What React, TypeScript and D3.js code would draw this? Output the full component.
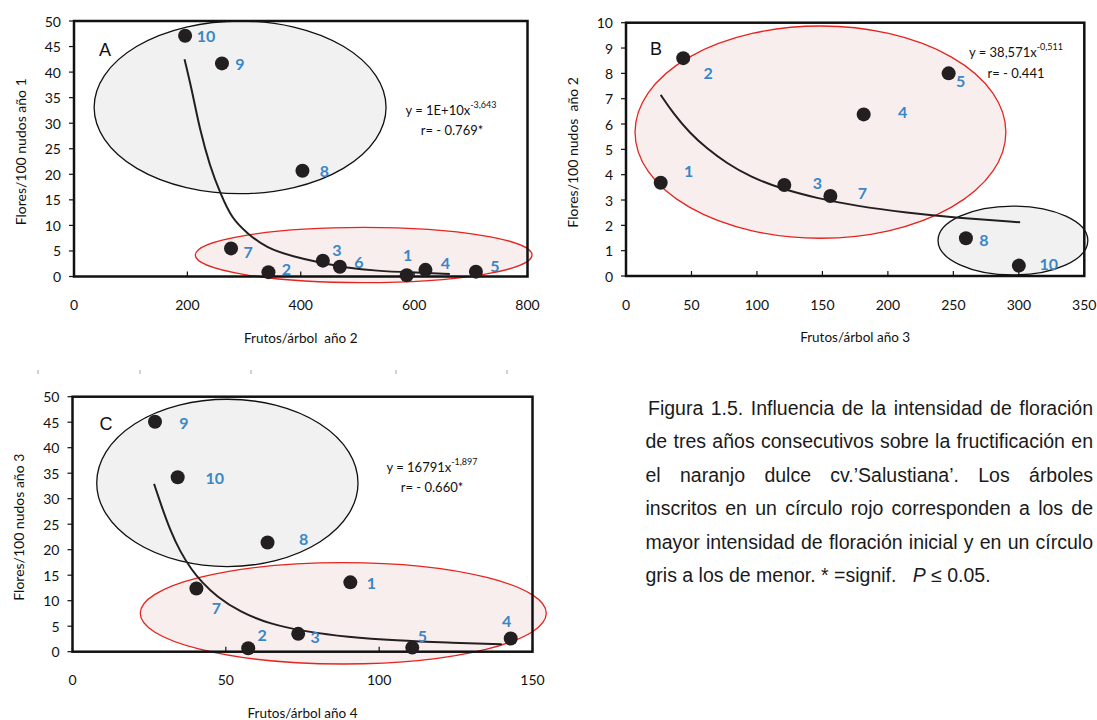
import React from "react";
import * as d3 from "d3";

// --- panel A: flores año 1 vs frutos año 2
const idsA = ["1", "2", "3", "4", "5", "6", "7", "8", "9", "10"];
const frutosA = [587, 343, 439, 620, 709, 469, 277, 403, 261, 196];
const floresA = [0.25, 0.85, 3.1, 1.3, 0.95, 1.9, 5.5, 20.7, 41.7, 47.1];
const trendAx = [195, 208, 222, 240, 258, 278, 305, 340, 387, 434, 481, 534, 593, 663];
const trendAy = [42.5, 36.5, 28.7, 21.5, 16.3, 11.4, 8.5, 5.5, 3.9, 2.7, 1.7, 1.1, 0.8, 0.5];
const xTicksA = [0, 200, 400, 600, 800];
const yTicksA = [0, 5, 10, 15, 20, 25, 30, 35, 40, 45, 50];

// --- panel B: flores año 2 vs frutos año 3
const idsB = ["1", "2", "3", "4", "5", "7", "8", "10"];
const frutosB = [26.5, 43.7, 120.9, 181.5, 246.4, 156.1, 259.6, 300];
const floresB = [3.68, 8.6, 3.59, 6.38, 8.0, 3.16, 1.49, 0.41];
const trendBx = [26.5, 36.1, 48.9, 61.6, 76.9, 94.7, 117.6, 145.6, 176.2, 214.4, 252.6, 301];
const trendBy = [7.15, 6.42, 5.63, 5.04, 4.45, 3.92, 3.46, 3.07, 2.76, 2.5, 2.3, 2.12];
const xTicksB = [0, 50, 100, 150, 200, 250, 300, 350];
const yTicksB = [0, 1, 2, 3, 4, 5, 6, 7, 8, 9, 10];

// --- panel C: flores año 3 vs frutos año 4
const idsC = ["1", "2", "3", "4", "5", "7", "8", "9", "10"];
const frutosC = [90.6, 57.3, 73.6, 142.9, 110.8, 40.4, 63.6, 26.9, 34.3];
const floresC = [13.6, 0.67, 3.5, 2.6, 0.8, 12.4, 21.4, 45.1, 34.2];
const trendCx = [26.6, 29.1, 31.8, 35.1, 38.9, 42.1, 47.0, 54.6, 64.4, 76.4, 89.4, 105.7, 122, 140];
const trendCy = [32.9, 28.4, 23.9, 19.6, 16.0, 13.7, 10.8, 7.8, 5.4, 3.9, 2.9, 2.2, 1.8, 1.45];
const xTicksC = [0, 50, 100, 150];
const yTicksC = [0, 5, 10, 15, 20, 25, 30, 35, 40, 45, 50];

const captionLines = [
  "Figura 1.5. Influencia  de la intensidad de floración",
  "de tres años consecutivos sobre la fructificación en",
  "el naranjo dulce cv.’Salustiana’. Los árboles",
  "inscritos en un círculo rojo corresponden a los de",
  "mayor intensidad de floración inicial y en un círculo",
];

const FONT = "Lato, 'Open Sans', sans-serif";
const SANS = "'Liberation Sans', Arial, sans-serif";
const BLUE = "#3a86c7";
const DOT = "#231f20";

type Ell = { cx: number; cy: number; rx: number; ry: number; red: boolean };

const panels = [
  {
    letter: "A", letterPos: [105, 50],
    ids: idsA, xs: frutosA, ys: floresA, tx: trendAx, ty: trendAy,
    xDomain: [0, 800], yDomain: [0, 50], xRange: [74, 527.5], yRange: [276.5, 21],
    xTicks: xTicksA, yTicks: yTicksA,
    xTitle: "Frutos/árbol  año 2", yTitle: "Flores/100 nudos año 1",
    eq: ["y = 1E+10x", "-3,643"], r: "r= - 0.769*", eqPos: [451, 110], rPos: [452, 130],
    ellipses: [
      { cx: 293, cy: 33.1, rx: 257.5, ry: 16.9, red: false },
      { cx: 511, cy: 4.2, rx: 297, ry: 5.4, red: true },
    ] as Ell[],
    offsets: { "1": [1, -21], "2": [18, -4], "3": [14, -11], "4": [20, -7], "5": [19, -6], "6": [19, -5], "7": [17, 3], "8": [22, 0], "9": [18, 0], "10": [21, 0] } as Record<string, number[]>,
  },
  {
    letter: "B", letterPos: [656, 49],
    ids: idsB, xs: frutosB, ys: floresB, tx: trendBx, ty: trendBy,
    xDomain: [0, 350], yDomain: [0, 10], xRange: [626, 1084.3], yRange: [276, 22.7],
    xTicks: xTicksB, yTicks: yTicksB,
    xTitle: "Frutos/árbol año 3", yTitle: "Flores/100 nudos  año 2",
    eq: ["y = 38,571x", "-0,511"], r: "r= - 0.441", eqPos: [1016, 52], rPos: [1016, 73],
    ellipses: [
      { cx: 295.5, cy: 1.4, rx: 57.2, ry: 1.36, red: false },
      { cx: 148.5, cy: 5.68, rx: 141.6, ry: 4.19, red: true },
    ] as Ell[],
    offsets: { "1": [28, -12], "2": [25, 14], "3": [33, -3], "4": [39, -3], "5": [12, 7], "7": [32, -3], "8": [18, 1], "10": [30, -2] } as Record<string, number[]>,
  },
  {
    letter: "C", letterPos: [106, 424],
    ids: idsC, xs: frutosC, ys: floresC, tx: trendCx, ty: trendCy,
    xDomain: [0, 150], yDomain: [0, 50], xRange: [72.5, 532.5], yRange: [651.7, 396.7],
    xTicks: xTicksC, yTicks: yTicksC,
    xTitle: "Frutos/árbol año 4", yTitle: "Flores/100 nudos año 3",
    eq: ["y = 16791x", "-1,897"], r: "r= - 0.660*", eqPos: [432, 467], rPos: [432, 487],
    ellipses: [
      { cx: 50.5, cy: 33.1, rx: 42.6, ry: 16.4, red: false },
      { cx: 88.3, cy: 7.53, rx: 66.2, ry: 9.94, red: true },
    ] as Ell[],
    offsets: { "1": [21, 0], "2": [14, -14], "3": [17, 3], "4": [-4, -18], "5": [10, -12], "7": [20, 19], "8": [36, -4], "9": [29, 1], "10": [37, 0] } as Record<string, number[]>,
  },
];

function Panel({ p }: { p: (typeof panels)[number] }) {
  const x = d3.scaleLinear().domain(p.xDomain).range(p.xRange);
  const y = d3.scaleLinear().domain(p.yDomain).range(p.yRange);
  const [left, right] = p.xRange;
  const [bottom, top] = p.yRange;
  const line = d3
    .line<number>()
    .x((d) => x(d))
    .y((_, i) => y(p.ty[i]))
    .curve(d3.curveBasis);

  return (
    <g>
      {p.ellipses.map((e, i) => (
        <ellipse
          key={i}
          cx={x(e.cx)}
          cy={y(e.cy)}
          rx={x(e.cx + e.rx) - x(e.cx)}
          ry={y(e.cy - e.ry) - y(e.cy)}
          fill={e.red ? "#f8eeed" : "#f1f1f1"}
          stroke={e.red ? "#e5231f" : "#111"}
          strokeWidth={1.3}
        />
      ))}
      <rect x={left} y={top} width={right - left} height={bottom - top} fill="none" stroke="#111" strokeWidth={2.5} />
      {p.yTicks.map((t) => (
        <g key={"y" + t}>
          <line x1={left - 5} x2={left} y1={y(t)} y2={y(t)} stroke="#111" strokeWidth={1.2} />
          <text x={left - 13} y={y(t)} textAnchor="end" dominantBaseline="central" fontSize={14} fontFamily={FONT} fill="#111">
            {t}
          </text>
        </g>
      ))}
      {p.xTicks.map((t) => (
        <g key={"x" + t}>
          <line x1={x(t)} x2={x(t)} y1={bottom} y2={bottom - 5} stroke="#111" strokeWidth={1.2} />
          <text x={x(t)} y={bottom + 28} textAnchor="middle" dominantBaseline="central" fontSize={14} fontFamily={FONT} fill="#111">
            {t}
          </text>
        </g>
      ))}
      <text
        transform={`translate(${left - 54},${(top + bottom) / 2 + 3}) rotate(-90)`}
        textAnchor="middle"
        dominantBaseline="central"
        fontSize={14}
        fontFamily={FONT}
        fill="#111"
        style={{ whiteSpace: "pre" }}
      >
        {p.yTitle}
      </text>
      <text x={(left + right) / 2} y={bottom + 61} textAnchor="middle" dominantBaseline="central" fontSize={13.5} fontFamily={FONT} fill="#111" style={{ whiteSpace: "pre" }}>
        {p.xTitle}
      </text>
      <path d={line(p.tx) || ""} fill="none" stroke={DOT} strokeWidth={2} />
      {p.ids.map((id, i) => (
        <circle key={id} cx={x(p.xs[i])} cy={y(p.ys[i])} r={7} fill={DOT} />
      ))}
      {p.ids.map((id, i) => (
        <text
          key={"l" + id}
          x={x(p.xs[i]) + p.offsets[id][0]}
          y={y(p.ys[i]) + p.offsets[id][1]}
          textAnchor="middle"
          dominantBaseline="central"
          fontSize={16}
          fontWeight={700}
          fontFamily={FONT}
          fill={BLUE}
        >
          {id}
        </text>
      ))}
      <text x={p.letterPos[0]} y={p.letterPos[1]} textAnchor="middle" dominantBaseline="central" fontSize={18} fontFamily={SANS} fill="#111">
        {p.letter}
      </text>
      <text x={p.eqPos[0]} y={p.eqPos[1]} textAnchor="middle" dominantBaseline="central" fontSize={13} fontFamily={FONT} fill="#111">
        {p.eq[0]}
        <tspan fontSize={9} dy={-6}>
          {p.eq[1]}
        </tspan>
      </text>
      <text x={p.rPos[0]} y={p.rPos[1]} textAnchor="middle" dominantBaseline="central" fontSize={13} fontFamily={FONT} fill="#111">
        {p.r}
      </text>
    </g>
  );
}

const CAP_TOP = 415;
const CAP_STEP = 33.4;
const CAP_SIZE = 19.5;

export default function App() {
  const capRef = React.useRef<SVGGElement>(null);

  // justified caption: place each word after measuring it
  React.useEffect(() => {
    const g = d3.select(capRef.current);
    g.selectAll("*").remove();
    const right = 1093;
    captionLines.forEach((ln, i) => {
      const startX = i === 0 ? 648 : 645.5;
      const yy = CAP_TOP + i * CAP_STEP;
      const words = ln.split(/\s+/);
      const nodes = words.map((w) =>
        g
          .append("text")
          .attr("y", yy)
          .attr("font-size", CAP_SIZE)
          .attr("font-family", SANS)
          .attr("fill", "#1a1a1a")
          .text(w)
      );
      const widths = nodes.map((n) => (n.node() as SVGTextElement).getComputedTextLength());
      const gap = Math.max(3, (right - startX - d3.sum(widths)) / (words.length - 1));
      let cx = startX;
      nodes.forEach((n, j) => {
        n.attr("x", cx);
        cx += widths[j] + gap;
      });
    });
  }, []);

  return (
    <svg width={1097} height={720} style={{ position: "absolute", left: 0, top: 0, background: "#fff" }}>
      {[37, 139, 250, 395, 506].map((v) => (
        <rect key={v} x={v} y={370} width={2} height={4} fill="#c9d1e2" />
      ))}
      {panels.map((p) => (
        <Panel key={p.letter} p={p} />
      ))}
      <g ref={capRef} />
      <text x={645.5} y={CAP_TOP + 5 * CAP_STEP} fontSize={CAP_SIZE} fontFamily={SANS} fill="#1a1a1a" style={{ whiteSpace: "pre" }}>
        {"gris a los de menor. * =signif.   "}
        <tspan fontStyle="italic">P</tspan>
        {" ≤ 0.05."}
      </text>
    </svg>
  );
}
